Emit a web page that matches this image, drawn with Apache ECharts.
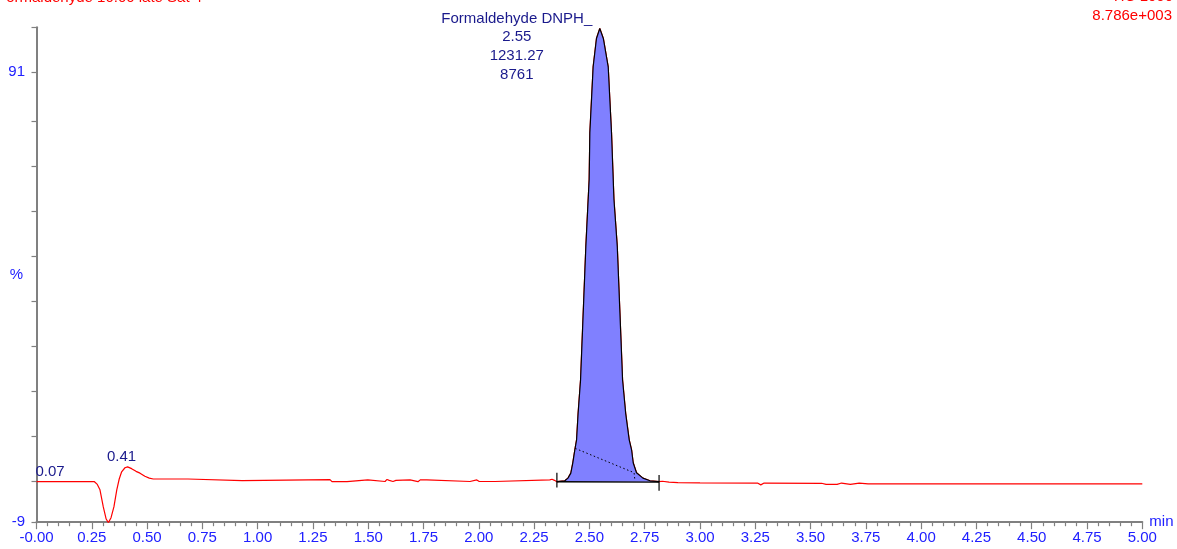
<!DOCTYPE html>
<html>
<head>
<meta charset="utf-8">
<title>Formaldehyde DNPH chromatogram</title>
<script src="https://cdn.jsdelivr.net/npm/echarts@6.0.0/dist/echarts.min.js"></script>
<style>
  html, body { margin: 0; padding: 0; background: #fff; }
  #chart { width: 1177px; height: 549px; }
</style>
</head>
<body>
<div id="chart"></div>
<script>
// trace: retention time (min) and relative intensity (%)
var traceTime = [
  0.000, 0.070, 0.262, 0.275, 0.287, 0.302, 0.315, 0.325, 0.337, 0.350,
  0.363, 0.374, 0.385, 0.400, 0.412, 0.430, 0.450, 0.468, 0.490, 0.510,
  0.528, 0.685, 0.692, 0.930, 0.938, 1.327, 1.336, 1.404, 1.410, 1.498,
  1.506, 1.576, 1.585, 1.595, 1.612, 1.625, 1.634, 1.689, 1.697, 1.725,
  1.735, 1.765, 1.774, 1.960, 1.968, 1.991, 2.002, 2.073, 2.081, 2.321,
  2.331, 2.342, 2.353, 2.389, 2.403, 2.416, 2.425, 2.434, 2.442, 2.449,
  2.460, 2.472, 2.484, 2.499, 2.502, 2.517, 2.532, 2.547, 2.563, 2.585,
  2.600, 2.611, 2.626, 2.638, 2.650, 2.664, 2.680, 2.691, 2.698, 2.713,
  2.742, 2.774, 2.815, 2.830, 2.860, 2.900, 3.000, 3.260, 3.275, 3.290,
  3.550, 3.570, 3.620, 3.640, 3.680, 3.720, 3.760, 3.800, 5.000
];
var traceValue = [
  0, 0, 0, -0.6, -1.8, -5.6, -8.3, -9.1, -8.0, -5.6,
  -1.8, 0.6, 2.2, 3.1, 3.3, 2.9, 2.3, 1.9, 1.2, 0.8,
  0.6, 0.6, 0.25, 0.25, 0.45, 0.45, 0, 0, 0.4, 0.4,
  0.05, 0.05, 0.5, 0.3, 0.05, 0.3, 0.4, 0.4, 0, 0,
  0.4, 0.4, 0.05, 0.05, 0.4, 0.4, 0.05, 0.05, 0.4, 0.4,
  0.55, 0.3, 0, 0.2, 0.8, 1.9, 4.2, 7.0, 9.3, 15.2,
  22.6, 37.5, 52.3, 67.2, 77.5, 92.2, 98.5, 100.7, 98.5, 92.2,
  77.5, 62.7, 52.3, 37.5, 22.6, 15.2, 9.3, 7.0, 4.2, 2.0,
  0.8, 0.2, 0, 0.1, -0.1, -0.2, -0.25, -0.3, -0.7, -0.3,
  -0.35, -0.6, -0.6, -0.3, -0.6, -0.3, -0.5, -0.5, -0.5
];

// integrated peak: start/end of the integration and the skim line
var peakStart = [2.353, 0];
var peakEnd = [2.815, -0.1];
var skimLine = [[2.436, 7.4], [2.702, 2.0], [2.706, 0.15]];

// peak labels
var labelTimes = ['0.07', '0.41', '2.55'];
var labelAnchorTime = [0.07, 0.412, 2.547];
var labelAnchorValue = [0, 3.3, 100.7];
var peakName = 'Formaldehyde DNPH_';
var peakArea = '1231.27';
var peakHeight = '8761';

var xTicks = { min: 0, max: 5, step: 0.25 };
var yLabels = [-9, 91];
var yTicks = [-9, 0, 10, 20, 30, 40, 50, 60, 70, 80, 91, 101];

var blue = '#2020ff';
var navy = '#1a1a8c';
var gray = '#808080';
var font = 'Liberation Sans, Arial, sans-serif';

var trace = [];
for (var i = 0; i < traceTime.length; i++) trace.push([traceTime[i], traceValue[i]]);
var peak = trace.filter(function (p) { return p[0] >= peakStart[0] && p[0] <= peakEnd[0]; });

function tickMark(t, top, bottom) {
  return {
    type: 'line', data: [[t, top], [t, bottom]], symbol: 'none', silent: true,
    lineStyle: { color: '#000', width: 1.2 }, z: 6
  };
}

var labelData = labelTimes.map(function (txt, k) {
  var item = { value: [labelAnchorTime[k], labelAnchorValue[k]] };
  if (k === 2) {
    item.label = {
      position: 'inside', offset: [-83, 18], align: 'center', verticalAlign: 'middle',
      lineHeight: 18.7,
      formatter: [peakName, txt, peakArea, peakHeight].join('\n')
    };
  } else {
    item.label = { position: 'top', distance: 2, offset: k === 1 ? [-6, 0] : [-2, 0], formatter: txt };
  }
  return item;
});

var myChart = echarts.init(document.getElementById('chart'), null, { renderer: 'canvas' });
var option = {
  animation: false,
  grid: { left: 36.5, right: 34.7, top: 27.2, bottom: 26.8, containLabel: false, outerBoundsMode: 'none' },
  textStyle: { fontFamily: font },
  graphic: [
    { type: 'text', left: -3, top: -10, style: { text: 'Formaldehyde 10:00 late Sat 4', fill: '#ff0000', font: '15px ' + font } },
    { type: 'text', right: 4, top: -11, style: { text: 'TIC 1000', fill: '#ff0000', font: '15px ' + font } },
    { type: 'text', right: 5, top: 8, style: { text: '8.786e+003', fill: '#ff0000', font: '15px ' + font } }
  ],
  xAxis: {
    type: 'value', min: xTicks.min, max: xTicks.max, interval: xTicks.step,
    name: 'min', nameLocation: 'end', nameGap: 7,
    nameTextStyle: { color: blue, fontSize: 15, verticalAlign: 'middle', padding: [4, 0, 0, 0] },
    axisLine: { onZero: false, lineStyle: { color: gray, width: 2 } },
    axisTick: { length: 7, lineStyle: { color: gray, width: 1.2 } },
    minorTick: { show: true, splitNumber: 5, length: 4, lineStyle: { color: gray, width: 1.2 } },
    splitLine: { show: false },
    axisLabel: {
      color: blue, fontSize: 15, margin: 8,
      formatter: function (v) { return v === 0 ? '-0.00' : v.toFixed(2); }
    }
  },
  yAxis: {
    type: 'value', min: -9, max: 101, offset: 2.5,
    name: '%', nameLocation: 'middle', nameRotate: 0, nameGap: 11, nameMoveOverlap: false,
    nameTextStyle: { color: blue, fontSize: 15 },
    axisLine: { show: true, lineStyle: { color: gray, width: 2 } },
    axisTick: { show: true, length: 5, customValues: yTicks, lineStyle: { color: gray, width: 1.2 } },
    splitLine: { show: false },
    axisLabel: { color: blue, fontSize: 15, margin: 9, customValues: yLabels }
  },
  series: [
    {
      type: 'line', data: trace, symbol: 'none', silent: true,
      lineStyle: { color: '#ff0000', width: 1.2 }, z: 2
    },
    {
      type: 'line', data: peak, symbol: 'none', silent: true,
      lineStyle: { color: '#000', width: 1.2 },
      areaStyle: { color: '#8080ff', opacity: 1 }, z: 3
    },
    {
      type: 'line', data: [peakStart, peakEnd], symbol: 'none', silent: true,
      lineStyle: { color: '#000', width: 1.4 }, z: 5
    },
    {
      type: 'line', data: skimLine, symbol: 'none', silent: true,
      lineStyle: { color: '#000', width: 1, type: [1.5, 2.5] }, z: 5
    },
    tickMark(peakStart[0], 2.0, -1.3),
    tickMark(peakEnd[0], 1.5, -2.0),
    {
      type: 'scatter', data: labelData, symbolSize: 1, silent: true,
      itemStyle: { color: 'transparent', opacity: 1 },
      label: { show: true, color: navy, opacity: 1, fontSize: 15, fontFamily: font },
      z: 10
    }
  ]
};
myChart.setOption(option);
</script>
</body>
</html>
